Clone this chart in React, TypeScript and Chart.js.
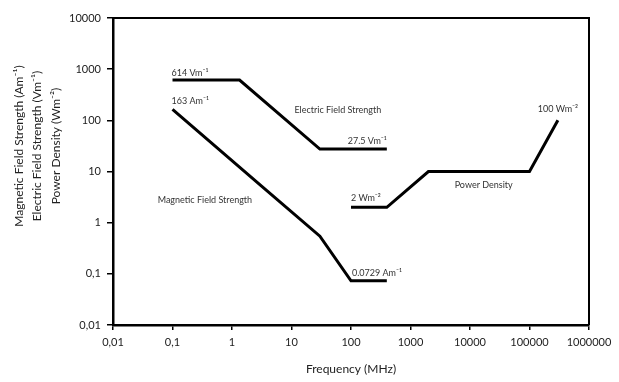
import React, { useEffect, useRef } from "react";
import { Chart, registerables } from "chart.js";

Chart.register(...registerables);

// ---- data ----
const electricFreq = [0.1, 1.34, 30, 400];
const electricVal = [614, 614, 27.5, 27.5];
const magneticFreq = [0.1, 3, 30, 100, 400];
const magneticVal = [163, 5.43, 0.543, 0.0729, 0.0729];
const powerFreq = [100, 400, 2000, 100000, 300000];
const powerVal = [2, 2, 10, 10, 100];

const xTickValues = [0.01, 0.1, 1, 10, 100, 1000, 10000, 100000, 1000000];
const xTickLabels = ["0,01", "0,1", "1", "10", "100", "1000", "10000", "100000", "1000000"];
const yTickValues = [0.01, 0.1, 1, 10, 100, 1000, 10000];
const yTickLabels = ["0,01", "0,1", "1", "10", "100", "1000", "10000"];

const yTitleLines = [
  "Magnetic Field Strength (Am⁻¹)",
  "Electric Field Strength (Vm⁻¹)",
  "Power Density (Wm⁻²)",
];
const xTitle = "Frequency (MHz)";

// annotation texts anchored at data coordinates
const noteTexts = [
  "614 Vm⁻¹",
  "163 Am⁻¹",
  "Electric Field Strength",
  "27.5 Vm⁻¹",
  "Magnetic Field Strength",
  "2 Wm⁻²",
  "Power Density",
  "100 Wm⁻²",
  "0.0729 Am⁻¹",
];
const noteFreq = [0.1, 0.1, 60, 400, 0.35, 100, 17000, 300000, 100];
const noteVal = [614, 163, 160, 27.5, 2.8, 2, 5.5, 100, 0.0729];

const FONT = "Lato, 'Open Sans', sans-serif";

function toPairs(xs: number[], ys: number[]) {
  return xs.map((x, i) => ({ x, y: ys[i] }));
}

export default function App() {
  const ref = useRef<HTMLCanvasElement | null>(null);

  useEffect(() => {
    document.body.style.margin = "0";
    const canvas = ref.current!;
    // style offsets for annotations: [dx, dy, align]
    const noteStyle: [number, number, CanvasTextAlign][] = [
      [-1, -7, "left"],
      [-1, -8, "left"],
      [0, 0, "center"],
      [0, -8, "right"],
      [0, 0, "center"],
      [0, -9, "left"],
      [0, 0, "center"],
      [0, -11, "center"],
      [1, -8, "left"],
    ];

    const overlay = {
      id: "overlay",
      afterDraw(chart: any) {
        const ctx = chart.ctx as CanvasRenderingContext2D;
        const { left, right, top, bottom } = chart.chartArea;
        ctx.save();
        ctx.strokeStyle = "#000";
        ctx.lineWidth = 2;
        ctx.beginPath();
        ctx.moveTo(left, top);
        ctx.lineTo(right, top);
        ctx.lineTo(right, bottom);
        ctx.stroke();

        const xs = chart.scales.x;
        const ys = chart.scales.y;
        ctx.fillStyle = "#333";
        ctx.font = `9px ${FONT}`;
        ctx.textBaseline = "middle";
        noteTexts.forEach((t, i) => {
          const [dx, dy, al] = noteStyle[i];
          ctx.textAlign = al;
          ctx.fillText(t, xs.getPixelForValue(noteFreq[i]) + dx, ys.getPixelForValue(noteVal[i]) + dy);
        });

        // axis titles
        ctx.fillStyle = "#222";
        ctx.font = `12px ${FONT}`;
        ctx.textAlign = "center";
        ctx.textBaseline = "middle";
        ctx.fillText(xTitle, (left + right) / 2, 369);
        const cy = 146;
        const cols = [19, 37, 56];
        yTitleLines.forEach((t, i) => {
          ctx.save();
          ctx.translate(cols[i], cy);
          ctx.rotate(-Math.PI / 2);
          ctx.fillText(t, 0, 0);
          ctx.restore();
        });
        ctx.restore();
      },
    };

    const lineDs = (data: { x: number; y: number }[]) => ({
      data,
      borderColor: "#000",
      borderWidth: 3,
      pointRadius: 0,
      tension: 0,
      fill: false,
      borderJoinStyle: "miter" as const,
    });

    const chart = new Chart(canvas, {
      type: "line",
      data: {
        datasets: [
          lineDs(toPairs(electricFreq, electricVal)),
          lineDs(toPairs(magneticFreq, magneticVal)),
          lineDs(toPairs(powerFreq, powerVal)),
        ],
      },
      options: {
        responsive: false,
        animation: false,
        layout: { padding: { top: 18, right: 30, left: 0, bottom: 0 } },
        plugins: { legend: { display: false }, tooltip: { enabled: false } },
        scales: {
          x: {
            type: "logarithmic",
            min: 0.01,
            max: 1000000,
            afterBuildTicks: (s: any) => {
              s.ticks = xTickValues.map((v) => ({ value: v }));
            },
            afterFit: (s: any) => {
              s.height = 57;
            },
            ticks: {
              autoSkip: false,
              maxRotation: 0,
              color: "#222",
              font: { family: FONT, size: 11 },
              padding: 6,
              callback: (_v: any, i: number) => xTickLabels[i],
            },
            grid: { drawOnChartArea: false, drawTicks: true, tickLength: 5, color: "#000", lineWidth: 1.5 },
            border: { display: true, color: "#000", width: 2.5 },
          },
          y: {
            type: "logarithmic",
            min: 0.01,
            max: 10000,
            afterBuildTicks: (s: any) => {
              s.ticks = yTickValues.map((v) => ({ value: v }));
            },
            afterFit: (s: any) => {
              s.width = 113;
            },
            ticks: {
              autoSkip: false,
              color: "#222",
              font: { family: FONT, size: 11 },
              padding: 6,
              callback: (_v: any, i: number) => yTickLabels[i],
            },
            grid: { drawOnChartArea: false, drawTicks: true, tickLength: 6, color: "#000", lineWidth: 1.5 },
            border: { display: true, color: "#000", width: 2.5 },
          },
        },
      },
      plugins: [overlay],
    });
    return () => chart.destroy();
  }, []);

  return <canvas ref={ref} width={619} height={382} style={{ display: "block" }} />;
}
